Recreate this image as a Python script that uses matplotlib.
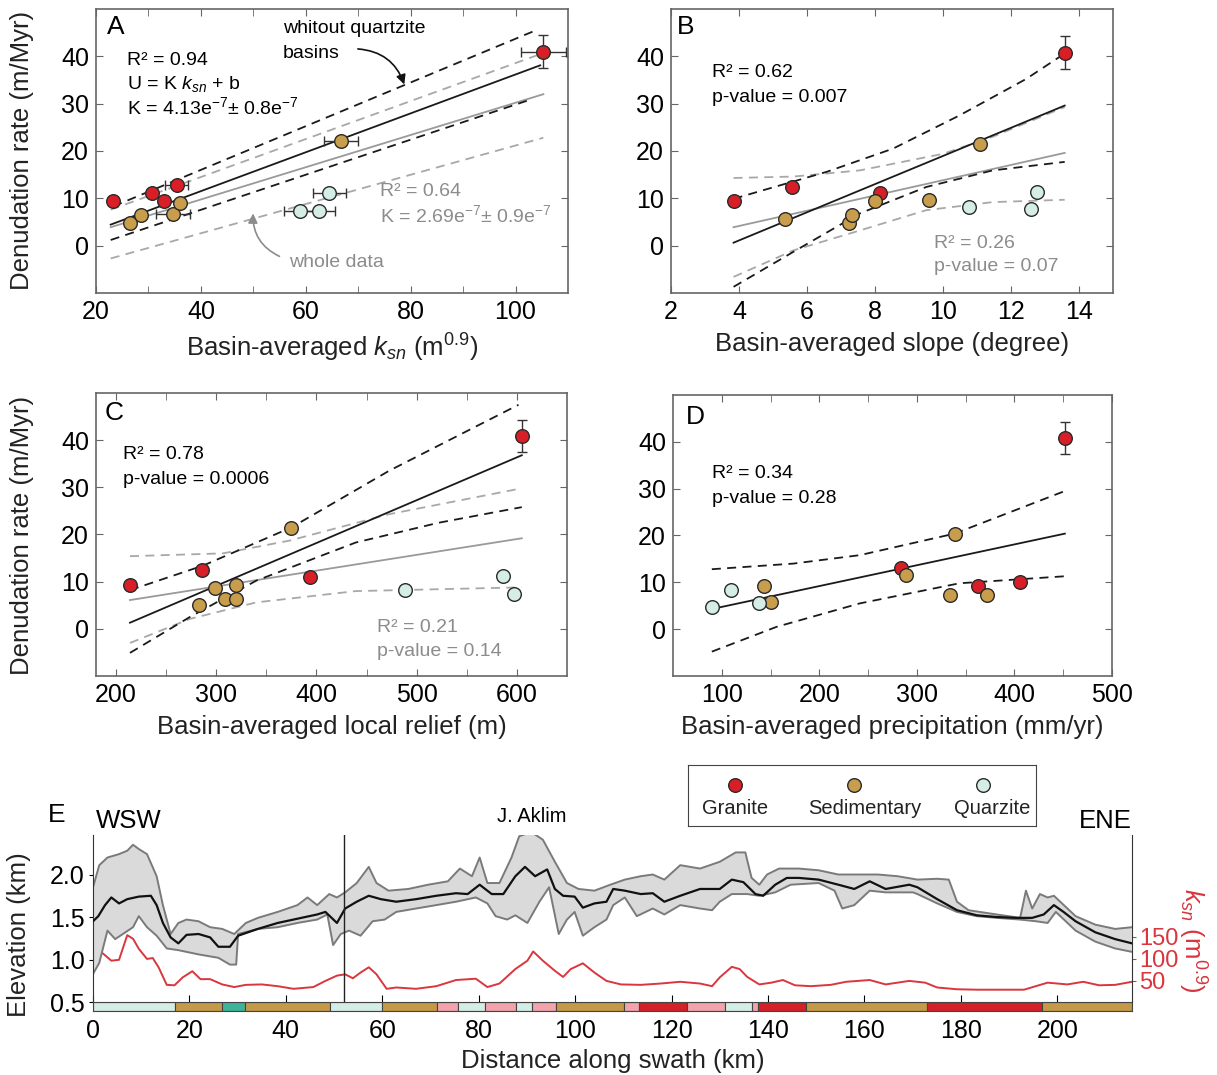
import numpy as np
import matplotlib
matplotlib.use('Agg')
import matplotlib.pyplot as plt

plt.rcParams['font.family'] = ['Liberation Sans', 'DejaVu Sans']
plt.rcParams['mathtext.fontset'] = 'custom'
plt.rcParams['mathtext.rm'] = 'Liberation Sans'
plt.rcParams['mathtext.it'] = 'Liberation Sans:italic'
plt.rcParams['mathtext.bf'] = 'Liberation Sans:bold'

# ---------------- data: panel A (ksn) ----------------
A_red_x = [23.3, 30.6, 33.0, 35.4, 105.3]
A_red_y = [9.5, 11.1, 9.5, 12.9, 41.0]
A_red_xerr = [0, 0, 0, 2.2, 4.3]
A_red_yerr = [0, 0, 0, 0, 3.5]
A_sed_x = [26.5, 28.6, 34.7, 36.1, 66.7]
A_sed_y = [4.8, 6.5, 6.7, 9.1, 22.2]
A_sed_xerr = [0, 0, 3.3, 0, 3.2]
A_qtz_x = [58.9, 62.5, 64.5]
A_qtz_y = [7.4, 7.4, 11.2]
A_qtz_xerr = [3.0, 3.0, 3.2]
# fits without quartzite (black) and whole data (gray)
A_fit_x, A_fit_y = [22.8, 104.7], [4.45, 38.1]
A_up_x, A_up_y = [23.3, 104.3], [8.3, 45.7]
A_lo_x, A_lo_y = [22.8, 102.4], [1.2, 30.7]
A_gfit_x, A_gfit_y = [22.8, 105.3], [3.9, 32.0]
A_gup_x, A_gup_y = [22.8, 104.3], [7.6, 40.3]
A_glo_x, A_glo_y = [22.8, 105.3], [-2.7, 22.8]

# ---------------- data: panel B (slope) ----------------
B_red_x = [3.84, 5.56, 8.16, 13.58]
B_red_y = [9.4, 12.4, 11.1, 40.8]
B_red_yerr = [0, 0, 0, 3.4]
B_sed_x = [5.35, 7.24, 7.33, 7.99, 9.59, 11.08]
B_sed_y = [5.7, 4.8, 6.5, 9.4, 9.7, 21.4]
B_qtz_x = [10.76, 12.6, 12.77]
B_qtz_y = [8.2, 7.7, 11.3]
B_fit_x, B_fit_y = [3.84, 13.58], [0.63, 29.6]
B_up_x = [3.84, 6.58, 8.53, 10.48, 12.44, 13.58]
B_up_y = [9.9, 15.6, 20.5, 27.5, 35.2, 40.6]
B_lo_x = [3.84, 5.6, 7.55, 9.51, 11.46, 13.58]
B_lo_y = [-8.7, -1.3, 6.8, 12.4, 15.9, 17.7]
B_gfit_x, B_gfit_y = [3.84, 13.58], [3.9, 19.6]
B_gup_x = [3.84, 5.6, 7.55, 10.0, 11.46, 13.58]
B_gup_y = [14.3, 14.6, 15.9, 19.4, 23.0, 29.3]
B_glo_x = [3.84, 5.6, 7.55, 9.51, 11.46, 13.58]
B_glo_y = [-6.6, -1.0, 3.2, 7.5, 9.2, 9.7]

# ---------------- data: panel C (local relief) ----------------
C_red_x = [213.9, 286.2, 393.8, 604.9]
C_red_y = [9.3, 12.5, 10.9, 40.8]
C_red_yerr = [0, 0, 0, 3.4]
C_sed_x = [282.8, 298.4, 308.4, 319.9, 319.9, 375.0]
C_sed_y = [5.1, 8.7, 6.4, 6.3, 9.2, 21.3]
C_qtz_x = [488.3, 585.7, 597.6]
C_qtz_y = [8.2, 11.3, 7.3]
C_fit_x, C_fit_y = [213.9, 604.9], [1.3, 36.8]
C_up_x = [213.9, 286.8, 375.0, 472.4, 601.6]
C_up_y = [8.2, 13.4, 21.5, 33.5, 47.5]
C_lo_x = [213.9, 273.6, 339.8, 439.2, 522.1, 604.9]
C_lo_y = [-5.1, 2.5, 10.2, 18.3, 22.5, 25.8]
C_gfit_x, C_gfit_y = [213.9, 604.9], [6.1, 19.2]
C_gup_x = [213.9, 306.7, 373.0, 472.4, 604.9]
C_gup_y = [15.4, 16.0, 18.7, 24.3, 29.8]
C_glo_x = [213.9, 273.6, 339.8, 439.2, 604.9]
C_glo_y = [-3.0, 2.1, 5.6, 8.0, 8.8]

# ---------------- data: panel D (precipitation) ----------------
D_red_x = [284.0, 362.4, 406.1, 451.7]
D_red_y = [13.1, 9.3, 10.0, 40.9]
D_red_yerr = [0, 0, 0, 3.4]
D_sed_x = [142.9, 150.8, 288.5, 334.2, 338.6, 371.6]
D_sed_y = [9.3, 5.9, 11.5, 7.4, 20.4, 7.4]
D_qtz_x = [89.8, 109.5, 138.2]
D_qtz_y = [4.8, 8.4, 5.5]
D_fit_x, D_fit_y = [89.8, 451.7], [4.3, 20.4]
D_up_x = [89.8, 173.3, 241.4, 338.6, 451.7]
D_up_y = [12.8, 14.0, 15.8, 20.4, 29.5]
D_lo_x = [89.8, 156.2, 241.4, 343.7, 451.7]
D_lo_y = [-4.8, 0.5, 5.5, 9.8, 11.3]

# ---------------- data: panel E (swath profile) ----------------
mean_km = [0, 1.1, 2.5, 3.8, 5.4, 7.1, 9.5, 12.0, 13.2, 14.5, 16.1, 17.7, 19.4, 21.9, 24.3,
           26.0, 28.4, 30.1, 34.2, 38.3, 42.4, 46.5, 48.2, 50.6, 52.3, 54.7, 57.2, 59.7,
           62.9, 67.0, 71.2, 75.3, 77.7, 80.2, 82.7, 85.1, 87.6, 89.6, 91.7, 94.2, 95.8,
           97.5, 99.9, 101.6, 104.0, 106.5, 107.9, 110.3, 113.6, 116.1, 118.5, 121.8,
           125.9, 130.0, 132.5, 134.9, 137.4, 139.0, 141.5, 143.9, 146.4, 150.5, 154.6,
           157.9, 161.1, 164.4, 169.3, 171.0, 175.1, 179.2, 183.3, 187.4, 191.5, 194.8,
           197.2, 199.3, 201.3, 203.8, 207.9, 212.0, 215.5]
mean_elev = [1.45, 1.51, 1.64, 1.73, 1.66, 1.71, 1.74, 1.75, 1.64, 1.43, 1.26, 1.19, 1.29,
             1.30, 1.26, 1.15, 1.15, 1.28, 1.36, 1.43, 1.48, 1.53, 1.56, 1.43, 1.60, 1.68,
             1.75, 1.71, 1.68, 1.71, 1.75, 1.78, 1.77, 1.88, 1.77, 1.77, 1.98, 2.09, 1.98,
             2.06, 1.83, 1.75, 1.74, 1.61, 1.66, 1.68, 1.83, 1.81, 1.77, 1.78, 1.68, 1.75,
             1.83, 1.83, 1.94, 1.91, 1.77, 1.75, 1.88, 1.96, 1.96, 1.94, 1.88, 1.83, 1.92,
             1.83, 1.88, 1.85, 1.71, 1.58, 1.52, 1.50, 1.49, 1.49, 1.53, 1.64, 1.56, 1.45,
             1.32, 1.24, 1.19]
max_km = [0, 1.3, 3.0, 5.4, 7.1, 8.3, 9.5, 11.2, 13.2, 14.5, 16.1, 17.7, 19.4, 21.9, 24.3,
          26.8, 29.3, 31.7, 34.2, 38.3, 42.4, 44.5, 46.5, 49.0, 50.6, 52.3, 54.7, 57.2,
          58.8, 61.3, 65.4, 69.5, 73.6, 76.1, 78.6, 80.2, 81.8, 84.3, 86.8, 88.4, 90.9,
          93.3, 95.8, 98.3, 100.7, 104.0, 107.3, 110.3, 113.6, 116.1, 118.5, 121.8, 125.9,
          130.0, 133.3, 135.3, 136.6, 138.2, 139.8, 142.3, 146.4, 150.5, 154.6, 158.7,
          162.8, 166.9, 171.0, 175.1, 177.5, 179.2, 181.6, 187.4, 192.3, 193.5, 194.8,
          196.4, 198.0, 199.3, 203.8, 207.9, 212.0, 215.5]
max_elev = [1.85, 2.11, 2.20, 2.24, 2.28, 2.35, 2.30, 2.24, 1.98, 1.64, 1.30, 1.43, 1.47,
            1.45, 1.38, 1.36, 1.30, 1.43, 1.49, 1.56, 1.64, 1.73, 1.64, 1.77, 1.73, 1.79,
            1.90, 2.09, 1.90, 1.81, 1.83, 1.88, 1.92, 2.07, 1.98, 2.20, 1.90, 1.90, 2.20,
            2.45, 2.50, 2.41, 2.15, 1.90, 1.83, 1.81, 1.88, 1.94, 1.98, 2.00, 1.94, 2.11,
            2.07, 2.15, 2.26, 2.26, 1.96, 1.88, 2.00, 2.07, 2.07, 2.05, 2.00, 2.00, 2.00,
            1.98, 1.94, 1.95, 1.94, 1.68, 1.58, 1.53, 1.49, 1.81, 1.60, 1.77, 1.73, 1.75,
            1.51, 1.41, 1.36, 1.38]
min_km = [0, 1.3, 3.0, 4.6, 6.2, 8.3, 9.5, 11.2, 13.2, 15.3, 17.7, 21.9, 26.0, 28.4, 29.7,
          30.1, 34.2, 38.3, 42.4, 46.5, 48.6, 49.8, 51.4, 53.1, 55.5, 58.0, 60.5, 62.9,
          67.0, 71.2, 75.3, 79.4, 81.8, 83.5, 85.9, 87.6, 90.1, 92.6, 94.6, 96.6, 98.3,
          99.9, 101.6, 104.0, 106.5, 107.9, 110.3, 112.8, 116.1, 118.5, 121.8, 125.9,
          128.4, 130.0, 132.5, 135.7, 138.2, 141.5, 144.7, 150.5, 153.8, 155.4, 157.9,
          161.1, 164.4, 170.1, 171.0, 175.1, 179.2, 183.3, 187.4, 192.3, 195.6, 198.0,
          199.7, 203.8, 207.9, 212.0, 215.5]
min_elev = [0.83, 0.96, 1.34, 1.24, 1.30, 1.38, 1.51, 1.38, 1.28, 1.13, 1.11, 1.06, 1.02,
            0.94, 0.94, 1.30, 1.36, 1.38, 1.43, 1.47, 1.53, 1.17, 1.30, 1.34, 1.28, 1.45,
            1.47, 1.56, 1.60, 1.64, 1.68, 1.73, 1.66, 1.51, 1.47, 1.52, 1.43, 1.68, 1.85,
            1.30, 1.47, 1.56, 1.28, 1.38, 1.47, 1.64, 1.73, 1.51, 1.60, 1.53, 1.64, 1.60,
            1.58, 1.68, 1.77, 1.77, 1.75, 1.79, 1.88, 1.90, 1.81, 1.60, 1.64, 1.81, 1.79,
            1.79, 1.77, 1.66, 1.56, 1.51, 1.49, 1.47, 1.45, 1.43, 1.56, 1.34, 1.21, 1.13,
            1.09]
ksn_km = [0, 0.9, 2.1, 3.8, 5.4, 7.1, 8.3, 9.5, 11.2, 12.4, 13.6, 15.3, 16.9, 18.6, 20.6,
          22.3, 24.3, 26.8, 29.3, 31.7, 35.0, 38.3, 41.6, 45.7, 48.2, 50.6, 52.3, 53.9,
          55.5, 57.2, 58.8, 60.9, 62.9, 67.0, 71.2, 75.3, 79.4, 81.8, 84.3, 87.6, 90.1,
          91.3, 93.3, 95.8, 97.5, 99.1, 101.6, 104.0, 106.5, 109.5, 113.6, 117.7, 121.8,
          125.9, 128.4, 130.0, 132.5, 134.1, 135.7, 138.2, 140.7, 143.1, 145.6, 148.9,
          153.0, 156.2, 161.1, 164.4, 169.3, 172.6, 175.1, 179.2, 183.3, 187.4, 193.1,
          198.0, 202.1, 205.4, 208.7, 212.0, 215.5]
ksn_val = [108, 121, 112, 96, 98, 154, 146, 123, 100, 102, 81, 41, 40, 58, 72, 54, 54, 42,
           36, 41, 42, 38, 32, 36, 50, 62, 65, 56, 69, 81, 65, 32, 35, 32, 38, 52, 55, 36,
           44, 77, 96, 117, 96, 73, 59, 77, 90, 69, 50, 42, 41, 44, 48, 44, 38, 58, 82, 77,
           59, 42, 46, 52, 40, 38, 41, 48, 52, 42, 50, 46, 35, 31, 30, 30, 30, 46, 42, 48,
           40, 41, 48]
litho_start = [0, 17.0, 26.7, 31.5, 49.2, 60.0, 71.3, 75.7, 81.3, 87.7, 91.1, 96.1, 110.1,
               113.3, 123.1, 131.0, 136.6, 137.9, 147.8, 173.0, 196.8]
litho_end = [17.0, 26.7, 31.5, 49.2, 60.0, 71.3, 75.7, 81.3, 87.7, 91.1, 96.1, 110.1, 113.3,
             123.1, 131.0, 136.6, 137.9, 147.8, 173.0, 196.8, 215.5]
litho_type = ['Q', 'S', 'T', 'S', 'Q', 'S', 'P', 'Q', 'P', 'Q', 'P', 'S', 'P',
              'G', 'P', 'Q', 'P', 'G', 'S', 'G', 'S']

# colours
c_red = '#d81f27'
c_sed = '#c89d4c'
c_qtz = '#d5ede7'
litho_colours = {'Q': c_qtz, 'S': '#c49a48', 'T': '#3fb39a', 'P': '#f2a3ab', 'G': '#d42027'}

fig = plt.figure(figsize=(12.17, 10.75), dpi=100)
W, H = 1217, 1075


def add_ax(left, top, right, bottom):
    # pixel box -> figure fraction
    return fig.add_axes([left / W, 1 - bottom / H, (right - left) / W, (bottom - top) / H])


def points(ax, x, y, colour, xerr=None, yerr=None):
    n = len(x)
    xerr = xerr if xerr is not None else [0] * n
    yerr = yerr if yerr is not None else [0] * n
    for i in range(n):
        if xerr[i] or yerr[i]:
            ax.errorbar(x[i], y[i], xerr=xerr[i] or None, yerr=yerr[i] or None, fmt='none',
                        ecolor='#333333', elinewidth=1, capsize=3.5, capthick=1, zorder=3)
    ax.plot(x, y, 'o', ms=9.8, mfc=colour, mec='#2a2a2a', mew=1, ls='none', zorder=4)


def style(ax, xlim, xticks, xminor, xlabel):
    ax.set_xlim(*xlim)
    ax.set_ylim(-10, 50)
    ax.set_yticks([0, 10, 20, 30, 40])
    ax.set_xticks(xticks)
    if xminor:
        ax.set_xticks(xminor, minor=True)
    ax.tick_params(which='both', direction='in', top=True, right=True, length=5,
                   color='#666666', labelsize=18, pad=5)
    for s in ax.spines.values():
        s.set_color('#666666')
        s.set_linewidth(1.2)
    ax.set_xlabel(xlabel, fontsize=18.5, labelpad=6, color='#222222')


def fits(ax, black, gray=None):
    (fx, fy), (ux, uy), (lx, ly) = black
    ax.plot(fx, fy, color='#1a1a1a', lw=1.3, zorder=2)
    ax.plot(ux, uy, color='#1a1a1a', lw=1.3, ls=(0, (5, 3.5)), zorder=2)
    ax.plot(lx, ly, color='#1a1a1a', lw=1.3, ls=(0, (5, 3.5)), zorder=2)
    if gray:
        (gx, gy), (gux, guy), (glx, gly) = gray
        ax.plot(gx, gy, color='#9a9a9a', lw=1.3, zorder=1)
        ax.plot(gux, guy, color='#a8a8a8', lw=1.3, ls=(0, (5, 3.5)), zorder=1)
        ax.plot(glx, gly, color='#a8a8a8', lw=1.3, ls=(0, (5, 3.5)), zorder=1)


gtxt_col = '#8c8c8c'

# ---------- A ----------
axA = add_ax(96, 9, 568, 293)
fits(axA, [(A_fit_x, A_fit_y), (A_up_x, A_up_y), (A_lo_x, A_lo_y)],
     [(A_gfit_x, A_gfit_y), (A_gup_x, A_gup_y), (A_glo_x, A_glo_y)])
points(axA, A_red_x, A_red_y, c_red, A_red_xerr, A_red_yerr)
points(axA, A_sed_x, A_sed_y, c_sed, A_sed_xerr)
points(axA, A_qtz_x, A_qtz_y, c_qtz, A_qtz_xerr)
style(axA, (20, 110), [20, 40, 60, 80, 100], [30, 50, 70, 90],
      r'Basin-averaged $k_{sn}$ (m$^{0.9}$)')
axA.text(0.023, 0.935, 'A', transform=axA.transAxes, fontsize=19, va='center')
axA.text(0.066, 0.820, 'R² = 0.94', transform=axA.transAxes, fontsize=14, va='center')
axA.text(0.066, 0.736, r'U = K $k_{sn}$ + b', transform=axA.transAxes, fontsize=14, va='center')
axA.text(0.066, 0.655, r'K = 4.13e$^{-7}$± 0.8e$^{-7}$', transform=axA.transAxes, fontsize=14,
         va='center')
axA.text(0.396, 0.930, 'whitout quartzite', transform=axA.transAxes, fontsize=14, va='center')
axA.text(0.396, 0.845, 'basins', transform=axA.transAxes, fontsize=14, va='center')
axA.text(0.602, 0.356, 'R² = 0.64', transform=axA.transAxes, fontsize=14, va='center',
         color=gtxt_col)
axA.text(0.602, 0.275, r'K = 2.69e$^{-7}$± 0.9e$^{-7}$', transform=axA.transAxes, fontsize=14,
         va='center', color=gtxt_col)
axA.text(0.409, 0.109, 'whole data', transform=axA.transAxes, fontsize=14, va='center',
         color=gtxt_col)
axA.annotate('', xy=(0.655, 0.725), xytext=(0.549, 0.860), xycoords='axes fraction',
             arrowprops=dict(arrowstyle='-|>', color='#111111', lw=1.2,
                             connectionstyle='arc3,rad=-0.35', mutation_scale=14))
axA.annotate('', xy=(0.333, 0.290), xytext=(0.394, 0.125), xycoords='axes fraction',
             arrowprops=dict(arrowstyle='-|>', color='#8c8c8c', lw=1.2,
                             connectionstyle='arc3,rad=-0.35', mutation_scale=14))

# ---------- B ----------
axB = add_ax(671, 9, 1113, 293)
fits(axB, [(B_fit_x, B_fit_y), (B_up_x, B_up_y), (B_lo_x, B_lo_y)],
     [(B_gfit_x, B_gfit_y), (B_gup_x, B_gup_y), (B_glo_x, B_glo_y)])
points(axB, B_red_x, B_red_y, c_red, None, B_red_yerr)
points(axB, B_sed_x, B_sed_y, c_sed)
points(axB, B_qtz_x, B_qtz_y, c_qtz)
style(axB, (2, 15), [2, 4, 6, 8, 10, 12, 14], None, 'Basin-averaged slope (degree)')
axB.text(0.014, 0.935, 'B', transform=axB.transAxes, fontsize=19, va='center')
axB.text(0.093, 0.778, 'R² = 0.62', transform=axB.transAxes, fontsize=14, va='center')
axB.text(0.093, 0.690, 'p-value = 0.007', transform=axB.transAxes, fontsize=14, va='center')
axB.text(0.595, 0.176, 'R² = 0.26', transform=axB.transAxes, fontsize=14, va='center',
         color=gtxt_col)
axB.text(0.595, 0.092, 'p-value = 0.07', transform=axB.transAxes, fontsize=14, va='center',
         color=gtxt_col)

# ---------- C ----------
axC = add_ax(96, 393, 567, 676)
fits(axC, [(C_fit_x, C_fit_y), (C_up_x, C_up_y), (C_lo_x, C_lo_y)],
     [(C_gfit_x, C_gfit_y), (C_gup_x, C_gup_y), (C_glo_x, C_glo_y)])
points(axC, C_red_x, C_red_y, c_red, None, C_red_yerr)
points(axC, C_sed_x, C_sed_y, c_sed)
points(axC, C_qtz_x, C_qtz_y, c_qtz)
style(axC, (180, 650), [200, 300, 400, 500, 600], [250, 350, 450, 550],
      'Basin-averaged local relief (m)')
axC.text(0.019, 0.929, 'C', transform=axC.transAxes, fontsize=19, va='center')
axC.text(0.057, 0.781, 'R² = 0.78', transform=axC.transAxes, fontsize=14, va='center')
axC.text(0.057, 0.693, 'p-value = 0.0006', transform=axC.transAxes, fontsize=14, va='center')
axC.text(0.597, 0.173, 'R² = 0.21', transform=axC.transAxes, fontsize=14, va='center',
         color=gtxt_col)
axC.text(0.597, 0.085, 'p-value = 0.14', transform=axC.transAxes, fontsize=14, va='center',
         color=gtxt_col)

# ---------- D ----------
axD = add_ax(673, 395, 1112, 676)
fits(axD, [(D_fit_x, D_fit_y), (D_up_x, D_up_y), (D_lo_x, D_lo_y)])
points(axD, D_red_x, D_red_y, c_red, None, D_red_yerr)
points(axD, D_sed_x, D_sed_y, c_sed)
points(axD, D_qtz_x, D_qtz_y, c_qtz)
style(axD, (50, 500), [100, 200, 300, 400, 500], [150, 250, 350, 450],
      'Basin-averaged precipitation (mm/yr)')
axD.text(0.030, 0.922, 'D', transform=axD.transAxes, fontsize=19, va='center')
axD.text(0.089, 0.719, 'R² = 0.34', transform=axD.transAxes, fontsize=14, va='center')
axD.text(0.089, 0.633, 'p-value = 0.28', transform=axD.transAxes, fontsize=14, va='center')

for ax, yc in [(axA, 150), (axC, 535)]:
    fig.text(22 / W, 1 - yc / H, 'Denudation rate (m/Myr)', rotation=90, fontsize=18.5,
             ha='center', va='center', color='#222222')

# ---------- E ----------
axE = add_ax(93, 835, 1132, 1002)
axE.fill(np.concatenate([max_km, min_km[::-1]]), np.concatenate([max_elev, min_elev[::-1]]),
         color='#dadada', lw=0, zorder=1)
axE.plot(max_km, max_elev, color='#7a7a7a', lw=1.4, zorder=2)
axE.plot(min_km, min_elev, color='#7a7a7a', lw=1.4, zorder=2)
axE.plot(mean_km, mean_elev, color='#111111', lw=1.6, zorder=3)
axE.axvline(52, color='#222222', lw=1, zorder=4)
axE.set_xlim(0, 215.5)
axE.set_ylim(0.5, 2.465)
axE.set_yticks([0.5, 1.0, 1.5, 2.0])
axE.set_yticklabels(['0.5', '1.0', '1.5', '2.0'])
axE.set_xticks(range(0, 220, 20))
axE.tick_params(axis='y', direction='out', length=3, labelsize=18, pad=3)
axE.tick_params(axis='x', direction='in', length=5, labelbottom=False)
axE.spines['top'].set_visible(False)
axE.spines['bottom'].set_visible(False)
axE.spines['right'].set_visible(False)
axE.spines['left'].set_color('#333333')

axK = axE.twinx()
axK.plot(ksn_km, ksn_val, color='#d9363e', lw=1.4, zorder=2)
axK.set_ylim(2, 382)
axK.set_yticks([50, 100, 150])
axK.tick_params(axis='y', colors='#d9363e', length=3, labelsize=17, pad=2)
axK.spines['top'].set_visible(False)
axK.spines['bottom'].set_visible(False)
axK.spines['left'].set_visible(False)
axK.spines['right'].set_color('#333333')
axK.set_zorder(axE.get_zorder() - 1)
axE.patch.set_visible(False)

axBar = add_ax(93, 1002, 1132, 1011)
for s, e, t in zip(litho_start, litho_end, litho_type):
    axBar.barh(0.5, e - s, left=s, height=1, color=litho_colours[t], edgecolor='#444444',
               lw=0.8)
axBar.set_xlim(0, 215.5)
axBar.set_ylim(0, 1)
axBar.set_yticks([])
axBar.set_xticks(range(0, 220, 20))
axBar.tick_params(axis='x', length=0, labelsize=18, pad=6)
for s in axBar.spines.values():
    s.set_color('#444444')
axBar.set_xlabel('Distance along swath (km)', fontsize=18.5, labelpad=4, color='#222222')

fig.text(19 / W, 1 - 935 / H, 'Elevation (km)', rotation=90, fontsize=18.5, ha='center',
         va='center', color='#222222')
fig.text(1192 / W, 1 - 940 / H, r'$k_{sn}$ (m$^{0.9}$)', rotation=270, fontsize=18.5,
         ha='center', va='center', color='#d9363e')
fig.text(48 / W, 1 - 815 / H, 'E', fontsize=19, va='center', ha='left')
fig.text(129 / W, 1 - 821 / H, 'WSW', fontsize=18.5, va='center', ha='center')
fig.text(532 / W, 1 - 817 / H, 'J. Aklim', fontsize=14.5, va='center', ha='center')
fig.text(1105 / W, 1 - 821 / H, 'ENE', fontsize=18.5, va='center', ha='center')

# legend box
axL = add_ax(688, 765, 1036, 826)
axL.set_xlim(0, 1)
axL.set_ylim(0, 1)
axL.set_xticks([])
axL.set_yticks([])
for s in axL.spines.values():
    s.set_color('#444444')
for xm, xt, col, lab in [(0.135, 0.135, c_red, 'Granite'), (0.477, 0.509, c_sed, 'Sedimentary'),
                         (0.848, 0.874, c_qtz, 'Quarzite')]:
    axL.plot(xm, 0.67, 'o', ms=9.8, mfc=col, mec='#2a2a2a', mew=1)
    axL.text(xt, 0.28, lab, ha='center', va='center', fontsize=14.5, color='#222222')

fig.savefig('out.png', dpi=100)
